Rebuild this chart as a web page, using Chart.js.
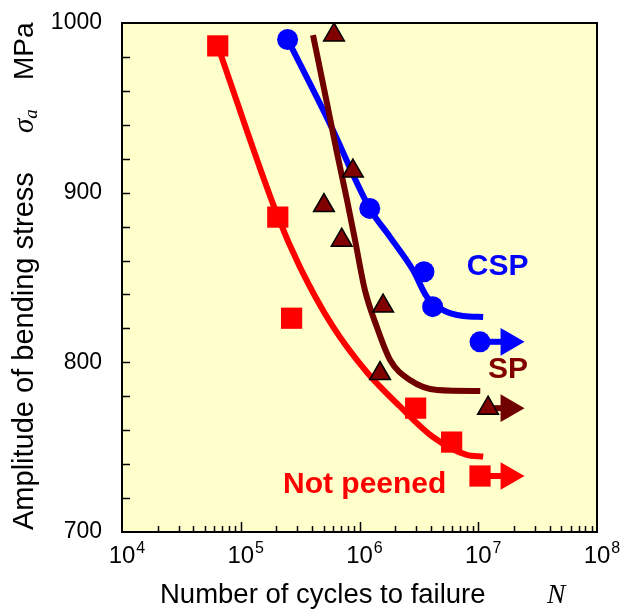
<!DOCTYPE html>
<html><head><meta charset="utf-8">
<script src="https://cdn.jsdelivr.net/npm/chart.js@4/dist/chart.umd.min.js"></script>
<style>html,body{margin:0;padding:0;background:#fff}#wrap{width:624px;height:612px}</style>
</head><body><div id="wrap"><canvas id="c" width="624" height="612"></canvas></div>
<script>
// ---------- data ----------
const xTickValues = [1e4, 1e5, 1e6, 1e7, 1e8];
const yTickValues = [700, 800, 900, 1000];

// Not peened (red squares)
const npCycles = [6.4e4, 2.05e5, 2.68e5, 2.97e6, 5.97e6];
const npStress = [986.5, 885.6, 826, 773, 753];
const npRunoutCycles = [1.035e7];
const npRunoutStress = [733];
const npCurveCycles = [6.4e4, 2.05e5, 3.16e5, 5.98e5, 1.16e6, 2.19e6, 4.16e6, 8.0e6, 1.1e7];
const npCurveStress = [986.5, 886, 856, 821, 794, 774, 756, 745.5, 744.5];

// SP (dark red triangles)
const spCycles = [6.1e5, 8.8e5, 5.02e5, 7.08e5, 1.58e6, 1.49e6];
const spStress = [993, 912.7, 892.4, 872, 833.2, 793.4];
const spRunoutCycles = [1.21e7];
const spRunoutStress = [773];
const spCurveCycles = [4.06e5, 5.32e5, 6.47e5, 7.85e5, 9.17e5, 1.11e6, 1.40e6, 1.81e6, 2.66e6, 4.50e6, 1.04e7];
const spCurveStress = [992.9, 952.8, 923.3, 895.6, 872.1, 842.6, 820.8, 801.4, 789.6, 783.7, 783.1];

// CSP (blue circles)
const cspCycles = [2.48e5, 1.22e6, 3.49e6, 4.13e6];
const cspStress = [990.3, 890.7, 853.4, 832.8];
const cspRunoutCycles = [1.035e7];
const cspRunoutStress = [812.1];
const cspCurveCycles = [2.48e5, 5.65e5, 1.22e6, 1.81e6, 2.82e6, 3.70e6, 5.05e6, 7.45e6, 1.10e7];
const cspCurveStress = [990.3, 940.4, 890.7, 873.8, 854.4, 838.5, 830.8, 827.3, 826.7];

// run-out arrow heads (cycles where each arrow head sits)
const arrowHeadCycles = [1.8e7, 1.8e7, 1.8e7];

// series label texts and their anchors in data space
const seriesLabels = ['CSP', 'SP', 'Not peened'];
const seriesLabelCycles = [8.0e6, 1.21e7, 2.27e5];
const seriesLabelStress = [851.4, 790.7, 723];

// ---------- styling ----------
const SANS = '"Liberation Sans", Arial, Helvetica, sans-serif';
const SERIF = '"Liberation Serif", "Times New Roman", serif';
const RED = '#FF0000', BLUE = '#0000FF', MAROON = '#800000', MAROON_LINE = '#700000';
const labelColors = [BLUE, MAROON, RED];

const pts = (xs, ys) => xs.map((x, i) => ({x, y: ys[i]}));

function curve(xs, ys, color) {
  return {data: pts(xs, ys), showLine: true, borderColor: color, borderWidth: 6,
    pointRadius: 0, cubicInterpolationMode: 'monotone', order: 2, clip: false};
}
function arrow(x0, y0, x1, color) {
  return {data: [{x: x0, y: y0}, {x: x1, y: y0}], showLine: true, borderColor: color,
    borderWidth: 6, pointRadius: [0, 16], pointStyle: 'triangle', pointRotation: 90,
    pointBackgroundColor: color, pointBorderWidth: 0, order: 3, clip: false};
}
function markers(xs, ys, style, radius, fill, border, bw) {
  return {data: pts(xs, ys), showLine: false, pointStyle: style, pointRadius: radius,
    pointBackgroundColor: fill, pointBorderColor: border, pointBorderWidth: bw, order: 0, clip: false};
}

const deco = {
  id: 'deco',
  beforeDatasetsDraw(chart) {
    const {ctx, chartArea: a, scales: {x: xs, y: ys}} = chart;
    ctx.save();
    ctx.fillStyle = '#FFFFCC';
    ctx.fillRect(a.left, a.top, a.right - a.left, a.bottom - a.top);
    ctx.strokeStyle = '#000';
    ctx.lineWidth = 1.5;
    ctx.beginPath();
    for (let v = 720; v < 1000; v += 20) {
      const py = Math.round(ys.getPixelForValue(v)) + 0.5;
      ctx.moveTo(a.left, py); ctx.lineTo(a.left + 8, py);
    }
    for (let n = 4; n < 8; n++) {
      for (let m = 1; m <= 9; m++) {
        if (n === 4 && m === 1) continue;
        const px = Math.round(xs.getPixelForValue(m * Math.pow(10, n))) + 0.5;
        const len = m === 1 ? 10 : 6;
        ctx.moveTo(px, a.bottom); ctx.lineTo(px, a.bottom - len);
      }
    }
    ctx.stroke();
    ctx.lineWidth = 2;
    ctx.strokeRect(a.left, a.top, a.right - a.left, a.bottom - a.top);
    ctx.restore();
  },
  afterDraw(chart) {
    const {ctx, scales: {x: xs, y: ys}} = chart;
    ctx.save();
    ctx.fillStyle = '#000';
    ctx.textBaseline = 'alphabetic';
    // x tick labels 10^n
    xTickValues.forEach(v => {
      const px = xs.getPixelForValue(v);
      const e = Math.round(Math.log10(v));
      ctx.font = '24px ' + SANS;
      ctx.textAlign = 'center';
      ctx.fillText('10', px, 563);
      const w = ctx.measureText('10').width;
      ctx.font = '16px ' + SANS;
      ctx.textAlign = 'left';
      ctx.fillText(String(e), px + w / 2 + 1, 553);
    });
    // x title
    ctx.textAlign = 'left';
    ctx.font = '27.5px ' + SANS;
    ctx.fillText('Number of cycles to failure', 160, 603);
    ctx.font = 'italic 27.5px ' + SERIF;
    ctx.fillText('N', 547, 603);
    // y title
    ctx.save();
    ctx.translate(33, 530);
    ctx.rotate(-Math.PI / 2);
    ctx.font = '29px ' + SANS;
    ctx.fillText('Amplitude of bending stress', 0, 0);
    ctx.font = 'italic 29px ' + SERIF;
    ctx.fillText('σ', 397, 0);
    const sw = ctx.measureText('σ').width;
    ctx.font = 'italic 19px ' + SERIF;
    ctx.fillText('a', 397 + sw, 4);
    ctx.font = '28px ' + SANS;
    ctx.fillText('MPa', 450, 0);
    ctx.restore();
    // series labels
    ctx.font = 'bold 30px ' + SANS;
    seriesLabels.forEach((t, i) => {
      ctx.fillStyle = labelColors[i];
      ctx.fillText(t, xs.getPixelForValue(seriesLabelCycles[i]), ys.getPixelForValue(seriesLabelStress[i]));
    });
    ctx.restore();
  }
};

new Chart(document.getElementById('c'), {
  type: 'scatter',
  data: {
    datasets: [
      markers(npCycles.concat(npRunoutCycles), npStress.concat(npRunoutStress), 'rect', 15, RED, RED, 0),
      markers(spCycles.concat(spRunoutCycles), spStress.concat(spRunoutStress), 'triangle', 12, MAROON, '#000', 1.5),
      markers(cspCycles.concat(cspRunoutCycles), cspStress.concat(cspRunoutStress), 'circle', 10.5, BLUE, BLUE, 0),
      curve(npCurveCycles, npCurveStress, RED),
      curve(spCurveCycles, spCurveStress, MAROON_LINE),
      curve(cspCurveCycles, cspCurveStress, BLUE),
      arrow(npRunoutCycles[0], npRunoutStress[0], arrowHeadCycles[0], RED),
      arrow(spRunoutCycles[0], spRunoutStress[0], arrowHeadCycles[1], MAROON_LINE),
      arrow(cspRunoutCycles[0], cspRunoutStress[0], arrowHeadCycles[2], BLUE)
    ]
  },
  options: {
    responsive: false,
    animation: false,
    devicePixelRatio: 1,
    layout: {padding: {left: 0, right: 27, top: 23, bottom: 0}},
    plugins: {legend: {display: false}, tooltip: {enabled: false}},
    scales: {
      x: {
        type: 'logarithmic', min: 1e4, max: 1e8,
        ticks: {display: false},
        grid: {display: false, drawTicks: false},
        border: {display: false},
        afterFit: s => { s.height = 80; s.paddingLeft = 0; s.paddingRight = 0; }
      },
      y: {
        min: 700, max: 1000,
        afterBuildTicks: s => { s.ticks = yTickValues.map(v => ({value: v})); },
        ticks: {font: {size: 23, family: SANS}, color: '#000', padding: 20, callback: v => String(v)},
        grid: {display: false, drawTicks: false},
        border: {display: false},
        afterFit: s => { s.width = 122; s.paddingTop = 0; s.paddingBottom = 0; }
      }
    }
  },
  plugins: [deco]
});
</script></body></html>
